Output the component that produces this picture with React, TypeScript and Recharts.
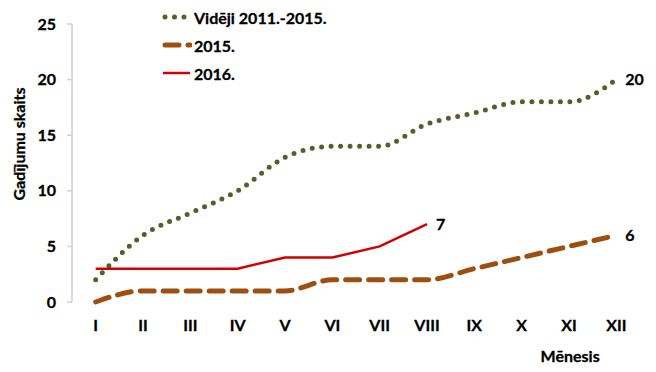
import React from 'react';
import { LineChart, Line, XAxis, YAxis, Legend, Label, LabelList } from 'recharts';

const months = ['I', 'II', 'III', 'IV', 'V', 'VI', 'VII', 'VIII', 'IX', 'X', 'XI', 'XII'];
const avg2011_2015 = [2, 6, 8, 10, 13, 14, 14, 16, 17, 18, 18, 20];
const values2015 = [0, 1, 1, 1, 1, 2, 2, 2, 3, 4, 5, 6];
const values2016 = [3, 3, 3, 3, 4, 4, 5, 7];
const yTicks = [0, 5, 10, 15, 20, 25];
const seriesNames = ['Vidēji 2011.-2015.', '2015.', '2016.'];
const yAxisTitle = 'Gadījumu skaits';
const xAxisTitle = 'Mēnesis';

const FONT = 'Lato, "Open Sans", sans-serif';
const AXIS_COLOR = '#cfcfcf';

const data = months.map((m, i) => ({
  x: i + 1,
  month: m,
  avg: avg2011_2015[i],
  s2015: values2015[i],
  s2016: i < values2016.length ? values2016[i] : null,
}));

const boundaryTicks = months.map((_, i) => i + 0.5).concat([months.length + 0.5]);
const centerTicks = months.map((_, i) => i + 1);

const series = [
  { key: 'avg', name: seriesNames[0], color: '#4F6228', width: 5, dash: '0 9.5', cap: 'round' as const, type: 'monotone' as const, count: avg2011_2015.length },
  { key: 's2015', name: seriesNames[1], color: '#9C4F0E', width: 5, dash: '14 9', cap: 'round' as const, type: 'monotone' as const, count: values2015.length },
  { key: 's2016', name: seriesNames[2], color: '#D40000', width: 2.5, dash: undefined, cap: 'butt' as const, type: 'linear' as const, count: values2016.length },
];

const textStyle = { fill: '#000', fontFamily: FONT, fontWeight: 700, fontSize: 16, stroke: '#000', strokeWidth: 0.3 };

const LegendContent = () => (
  <div style={{ fontFamily: FONT, fontWeight: 700, fontSize: 16, color: '#000', WebkitTextStroke: '0.3px #000' }}>
    {series.map((s) => (
      <div key={s.key} style={{ display: 'flex', alignItems: 'center', height: 28 }}>
        <svg width={30} height={12} style={{ marginRight: 2 }}>
          <line
            x1={s.cap === 'round' ? 3 : 1}
            y1={6}
            x2={28}
            y2={6}
            stroke={s.color}
            strokeWidth={s.width}
            strokeDasharray={s.dash}
            strokeLinecap={s.cap}
          />
        </svg>
        <span>{s.name}</span>
      </div>
    ))}
  </div>
);

const endLabel = (count: number) => (props: any) => {
  const { x, y, index, value } = props;
  if (index !== count - 1 || value == null) return null;
  return (
    <text x={x + 9} y={y} dy="0.36em" {...textStyle}>
      {value}
    </text>
  );
};

export default function App() {
  return (
    <div style={{ position: 'absolute', left: 0, top: 0, width: 656, height: 372, background: '#fff' }}>
      <LineChart width={656} height={372} data={data} margin={{ top: 24, right: 16, bottom: 0, left: 0 }}>
        <XAxis
          xAxisId="grid"
          type="number"
          dataKey="x"
          domain={[0.5, months.length + 0.5]}
          ticks={boundaryTicks}
          tickFormatter={() => ''}
          tickSize={5}
          height={0}
          axisLine={{ stroke: AXIS_COLOR, strokeWidth: 1.5 }}
          tickLine={{ stroke: AXIS_COLOR, strokeWidth: 1.5 }}
        />
        <XAxis
          xAxisId="lab"
          type="number"
          dataKey="x"
          domain={[0.5, months.length + 0.5]}
          ticks={centerTicks}
          tickFormatter={(v: number) => months[v - 1]}
          axisLine={false}
          tickLine={false}
          tickSize={0}
          tickMargin={18}
          height={70}
          interval={0}
          tick={textStyle}
        >
          <Label
            content={(p: any) => {
              const vb = p.viewBox;
              return (
                <text x={vb.x + vb.width * 0.877} y={vb.y + 53} textAnchor="middle" dominantBaseline="central" {...textStyle}>
                  {xAxisTitle}
                </text>
              );
            }}
          />
        </XAxis>
        <YAxis
          type="number"
          domain={[0, 25]}
          ticks={yTicks}
          width={72}
          tickSize={5}
          tickMargin={11}
          axisLine={{ stroke: AXIS_COLOR, strokeWidth: 1.5 }}
          tickLine={{ stroke: AXIS_COLOR, strokeWidth: 1.5 }}
          tick={textStyle}
        >
          <Label
            content={(p: any) => {
              const vb = p.viewBox;
              const cx = vb.x + 18;
              const cy = vb.y + vb.height / 2 - 19;
              return (
                <text x={cx} y={cy} transform={`rotate(-90 ${cx} ${cy})`} textAnchor="middle" dominantBaseline="central" {...textStyle}>
                  {yAxisTitle}
                </text>
              );
            }}
          />
        </YAxis>
        <Legend
          layout="vertical"
          verticalAlign="middle"
          align="center"
          wrapperStyle={{ top: 3, left: 162, width: 220 }}
          content={<LegendContent />}
        />
        {series.map((s) => (
          <Line
            key={s.key}
            xAxisId="lab"
            dataKey={s.key}
            name={s.name}
            type={s.type}
            stroke={s.color}
            strokeWidth={s.width}
            strokeDasharray={s.dash}
            strokeLinecap={s.cap}
            dot={false}
            activeDot={false}
            connectNulls={false}
            isAnimationActive={false}
          >
            <LabelList dataKey={s.key} content={endLabel(s.count)} />
          </Line>
        ))}
      </LineChart>
    </div>
  );
}
